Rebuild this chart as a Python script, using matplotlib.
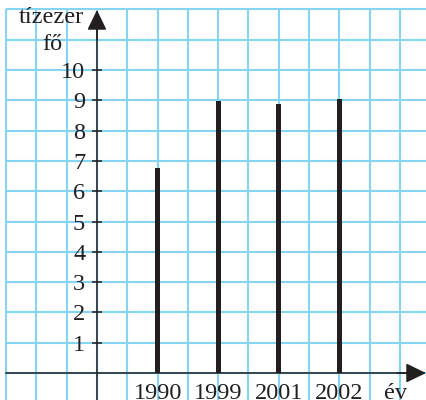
import matplotlib
matplotlib.use("Agg")
from matplotlib import pyplot as plt
import numpy as np

years = ["1990", "1999", "2001", "2002"]
positions = [2, 4, 6, 8]          # grid columns the bars sit on
values = [6.78, 8.97, 8.89, 9.04]  # tízezer fő
y_ticks = list(range(1, 11))

grid_color = "#85d4f2"
ink = "#231f20"
fs = 17.5


def main():
    plt.rcParams["font.family"] = ["Liberation Serif", "DejaVu Serif"]
    fig = plt.figure(figsize=(4.26, 4.0), dpi=100)
    ax = fig.add_axes([0, 0, 1, 1])

    x0, x1 = -3.2, 10.86
    y0, y1 = -0.89, 12.31
    ax.set_xlim(x0, x1)
    ax.set_ylim(y0, y1)

    # squared paper
    ax.vlines(np.arange(-3, 11), y0, 12, color=grid_color, linewidth=1.5, zorder=0)
    ax.hlines(np.arange(-1, 13), -3, x1, color=grid_color, linewidth=1.5, zorder=0)

    ax.bar(positions, values, width=0.17, color=ink, zorder=3)

    for s in ["top", "right"]:
        ax.spines[s].set_visible(False)
    ax.spines["left"].set_position(("data", 0))
    ax.spines["bottom"].set_position(("data", 0))
    ax.spines["left"].set_bounds(y0, 11.6)
    ax.spines["bottom"].set_bounds(-3, 10.5)
    for s in ["left", "bottom"]:
        ax.spines[s].set_linewidth(1.1)
        ax.spines[s].set_color(ink)
        ax.spines[s].set_zorder(4)

    head = "-|>,head_length=0.62,head_width=0.3"
    ax.annotate("", xy=(0, 11.98), xytext=(0, 11.0),
                arrowprops=dict(arrowstyle=head, color=ink, lw=1.1,
                                mutation_scale=20, shrinkA=0, shrinkB=0))
    ax.annotate("", xy=(x1, 0), xytext=(9.9, 0),
                arrowprops=dict(arrowstyle=head, color=ink, lw=1.1,
                                mutation_scale=20, shrinkA=0, shrinkB=0))

    ax.set_yticks(y_ticks)
    ax.set_yticklabels([str(t) for t in y_ticks])
    ax.tick_params(axis="y", direction="inout", length=7, width=1.1, color=ink,
                   labelsize=fs, labelcolor=ink, pad=5)
    ax.set_xticks(positions)
    ax.set_xticklabels(years)
    ax.tick_params(axis="x", length=0, labelsize=fs, labelcolor=ink, pad=7)

    ax.text(9.85, -0.33, "év", fontsize=fs, color=ink, ha="center", va="top")
    ax.text(-1.52, 11.55, "tízezer", fontsize=fs, color=ink, ha="center", va="baseline")
    ax.text(-1.48, 10.65, "fő", fontsize=fs, color=ink, ha="center", va="baseline")

    fig.savefig("out.png", dpi=100)


if __name__ == "__main__":
    main()
